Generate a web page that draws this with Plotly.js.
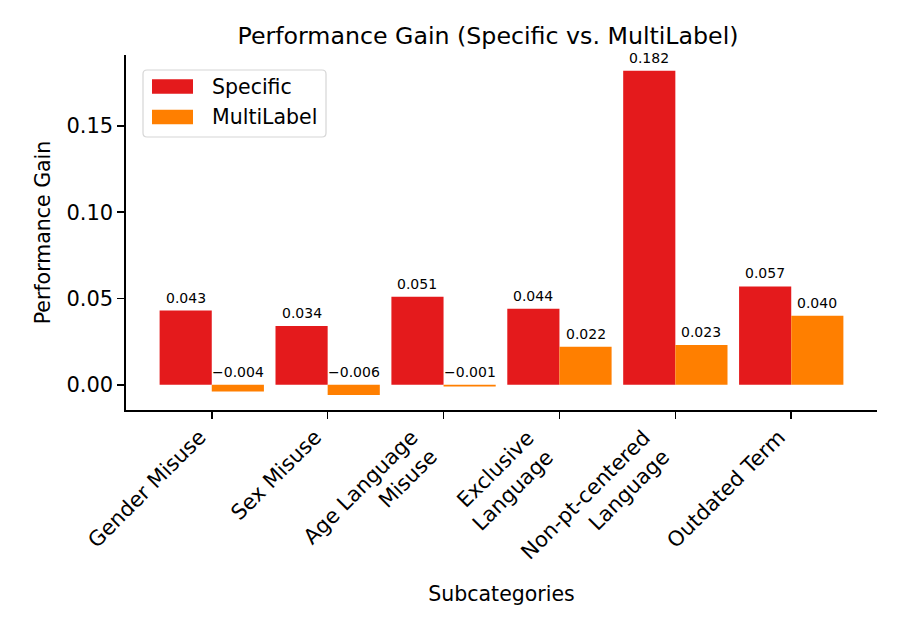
<!DOCTYPE html>
<html>
<head>
<meta charset="utf-8">
<script src="https://cdn.plot.ly/plotly-3.0.1.min.js"></script>
<style>
  html, body { margin: 0; padding: 0; background: #ffffff; }
  #chart { width: 900px; height: 630px; }
</style>
</head>
<body>
<div id="chart"></div>
<script>
// Subcategories and the gain of each model variant
const categories = [
  "Gender Misuse",
  "Sex Misuse",
  "Age Language<br>Misuse",
  "Exclusive<br>Language",
  "Non-pt-centered<br>Language",
  "Outdated Term"
];
const specificGain = [0.043, 0.034, 0.051, 0.044, 0.182, 0.057];
const multiLabelGain = [-0.004, -0.006, -0.001, 0.022, 0.023, 0.040];
const seriesNames = ["Specific", "MultiLabel"];
const seriesColors = ["#e41a1c", "#ff7f00"];
const yTickValues = [0.00, 0.05, 0.10, 0.15];

const FONT = "DejaVu Sans, Liberation Sans, sans-serif";
const idx = categories.map((_, i) => i);
const barWidth = 0.45;

const traces = [specificGain, multiLabelGain].map((vals, s) => ({
  type: "bar",
  name: seriesNames[s],
  x: idx.map(i => i + (s === 0 ? -barWidth / 2 : barWidth / 2)),
  y: vals,
  width: barWidth,
  marker: { color: seriesColors[s], line: { width: 0 } },
  showlegend: false,
  hoverinfo: "y"
}));

const annotations = [];

// Value labels sit just above the bar top (or above zero for negative bars)
[specificGain, multiLabelGain].forEach((vals, s) => {
  vals.forEach((v, i) => {
    annotations.push({
      x: i + (s === 0 ? -barWidth / 2 : barWidth / 2),
      y: Math.max(v, 0),
      xref: "x", yref: "y",
      text: v.toFixed(3).replace("-", "\u2212"),
      showarrow: false,
      yanchor: "bottom",
      yshift: 3,
      font: { family: FONT, size: 14, color: "#000000" }
    });
  });
});

// Rotated category labels: the rotated box's top-right corner hangs under each tick
categories.forEach((c, i) => {
  annotations.push({
    x: i, y: 0, xref: "x", yref: "paper",
    text: c,
    textangle: -45,
    align: "right",
    xanchor: "right", yanchor: "top",
    yshift: -14, xshift: 0,
    borderpad: 0,
    showarrow: false,
    font: { family: FONT, size: 21, color: "#000000" }
  });
});

// Legend: box with rounded corners, colour patches and series names
const plotW = 751, plotH = 355;
const px = x => (x - 126) / plotW;
const py = y => (410 - y) / plotH;
function roundedRect(x0, y0, x1, y1, r) {
  const rx = r / plotW, ry = r / plotH;
  const X0 = px(x0), X1 = px(x1), Yt = py(y0), Yb = py(y1);
  return `M${X0 + rx},${Yt} L${X1 - rx},${Yt} Q${X1},${Yt} ${X1},${Yt - ry} ` +
         `L${X1},${Yb + ry} Q${X1},${Yb} ${X1 - rx},${Yb} L${X0 + rx},${Yb} ` +
         `Q${X0},${Yb} ${X0},${Yb + ry} L${X0},${Yt - ry} Q${X0},${Yt} ${X0 + rx},${Yt} Z`;
}
const shapes = [{
  type: "path", xref: "paper", yref: "paper",
  path: roundedRect(143, 70, 326, 137, 4),
  fillcolor: "rgba(255,255,255,0.8)",
  line: { color: "#d6d6d6", width: 1.2 }
}];
const legendRows = [86.5, 117];
seriesNames.forEach((name, s) => {
  const cy = legendRows[s];
  shapes.push({
    type: "rect", xref: "paper", yref: "paper",
    x0: px(152), x1: px(193), y0: py(cy + 7.2), y1: py(cy - 7.2),
    fillcolor: seriesColors[s], line: { width: 0 }
  });
  annotations.push({
    x: px(210), y: py(cy), xref: "paper", yref: "paper",
    xanchor: "left", yanchor: "middle",
    text: name, showarrow: false,
    font: { family: FONT, size: 20.5, color: "#000000" }
  });
});

const layout = {
  width: 900,
  height: 630,
  paper_bgcolor: "#ffffff",
  plot_bgcolor: "#ffffff",
  margin: { l: 126, r: 23, t: 55, b: 220 },
  font: { family: FONT, color: "#000000" },
  title: {
    text: "Performance Gain (Specific vs. MultiLabel)",
    font: { family: FONT, size: 23.7, color: "#000000" },
    x: 0.5422, xanchor: "center",
    y: 0.943, yanchor: "middle"
  },
  barmode: "overlay",
  showlegend: false,
  xaxis: {
    range: [-0.74, 5.74],
    tickmode: "array",
    tickvals: idx,
    showticklabels: false,
    ticks: "outside",
    ticklen: 7,
    tickwidth: 1.6,
    tickcolor: "#000000",
    showline: true,
    linecolor: "#000000",
    linewidth: 1.6,
    showgrid: false,
    zeroline: false,
    title: {
      text: "Subcategories",
      font: { family: FONT, size: 20.5, color: "#000000" },
      standoff: 169
    },
    automargin: false
  },
  yaxis: {
    range: [-0.01467, 0.19116],
    tickmode: "array",
    tickvals: yTickValues,
    ticktext: yTickValues.map(v => v.toFixed(2)),
    ticks: "outside",
    ticklen: 7,
    tickwidth: 1.6,
    tickcolor: "#000000",
    showline: true,
    linecolor: "#000000",
    linewidth: 1.6,
    showgrid: false,
    zeroline: false,
    tickfont: { family: FONT, size: 21, color: "#000000" },
    title: {
      text: "Performance Gain",
      font: { family: FONT, size: 20.5, color: "#000000" },
      standoff: 10
    },
    automargin: false
  },
  shapes: shapes,
  annotations: annotations
};

Plotly.newPlot("chart", traces, layout, { displayModeBar: false, staticPlot: true });
</script>
</body>
</html>
